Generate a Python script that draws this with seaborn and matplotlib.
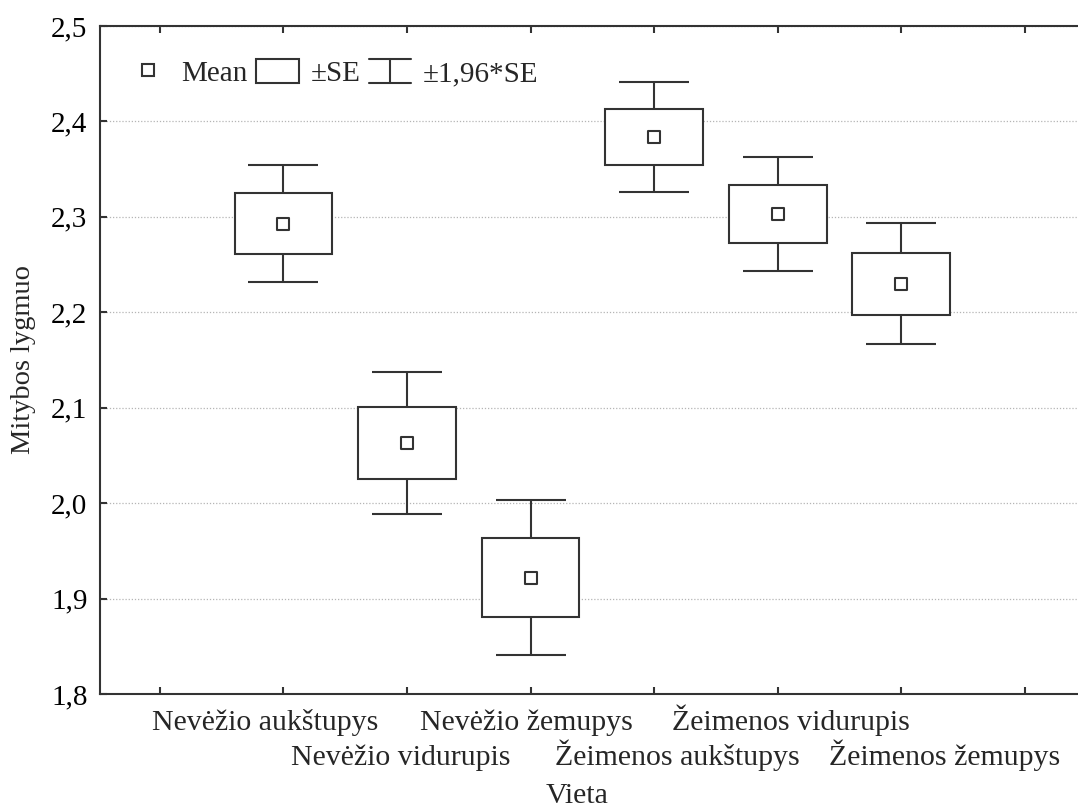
import matplotlib
matplotlib.use("Agg")
import matplotlib.pyplot as plt
from matplotlib.legend_handler import HandlerBase
from matplotlib.lines import Line2D
from matplotlib.patches import Patch
import matplotlib.transforms as mtransforms
import numpy as np
import pandas as pd
import seaborn as sns

# Mitybos lygmuo pagal vietą: vidurkis ir standartinė paklaida
categories = ["Nevėžio aukštupys", "Nevėžio vidurupis", "Nevėžio žemupys",
              "Žeimenos aukštupys", "Žeimenos vidurupis", "Žeimenos žemupys"]
means = [2.293, 2.063, 1.922, 2.384, 2.303, 2.230]
se = [0.0315, 0.038, 0.0415, 0.0295, 0.0305, 0.0325]
y_ticks = [1.8, 1.9, 2.0, 2.1, 2.2, 2.3, 2.4, 2.5]

sns.set_style("white")
plt.rcParams["font.family"] = ["Liberation Serif", "DejaVu Serif"]
plt.rcParams["font.size"] = 20

ink = "#333333"
lw = 1.5

df = pd.DataFrame({"vieta": categories, "mean": means, "se": se})
df["pos"] = np.arange(1, len(categories) + 1)
df["ci"] = 1.96 * df["se"]

fig = plt.figure(figsize=(10.78, 8.07), dpi=100)
ax = fig.add_axes([100 / 1078, 1 - 694 / 807, 1 - 100 / 1078, (694 - 26) / 807])

# ±1,96*SE whiskers
ax.errorbar(df["pos"], df["mean"], yerr=df["ci"], fmt="none", ecolor=ink,
            elinewidth=lw, capsize=25.2, capthick=lw, zorder=2)
# ±SE boxes
ax.bar(df["pos"], 2 * df["se"], bottom=df["mean"] - df["se"], width=0.79,
       color="white", edgecolor=ink, linewidth=lw, zorder=3)
# mean markers
sns.scatterplot(data=df, x="pos", y="mean", marker="s", s=80, color="white",
                edgecolor=ink, linewidth=lw, zorder=4, ax=ax, legend=False)

ax.set_xlim(-0.485, 7.43)
ax.set_ylim(1.8, 2.5)
ax.set_yticks(y_ticks)
ax.set_yticklabels([f"{v:.1f}".replace(".", ",") for v in y_ticks])
ax.set_xticks(range(len(categories) + 2))
ax.set_xticklabels([])

# category names in two staggered rows below the axis
label_shift = [-0.15, -0.05, -0.03, 0.19, 0.11, 0.35]
row_y = [-0.054, -0.106]
trans = mtransforms.blended_transform_factory(ax.transData, ax.transAxes)
for i, (p, name) in enumerate(zip(df["pos"], df["vieta"])):
    ax.text(p + label_shift[i], row_y[i % 2], name, transform=trans,
            ha="center", va="baseline", fontsize=21.5, clip_on=False)

ax.yaxis.grid(True, color="#b5b5b5", linestyle=(0, (1, 1.5)), linewidth=0.9)
ax.set_axisbelow(True)
for side in ["left", "top", "bottom"]:
    ax.spines[side].set_color(ink)
    ax.spines[side].set_linewidth(lw)
ax.spines["right"].set_visible(False)
ax.tick_params(axis="x", direction="in", top=True, bottom=True, length=5,
               width=lw, color=ink)
ax.tick_params(axis="y", direction="in", left=True, right=False, length=5,
               width=lw, color=ink, pad=9, labelsize=21, labelcolor="black")

ax.set_xlabel("Vieta", fontsize=21.5)
ax.xaxis.set_label_coords(0.488, -0.133)
ax.set_ylabel("Mitybos lygmuo", fontsize=20.5)
ax.yaxis.set_label_coords(-0.0654, 0.5)


class WhiskerHandler(HandlerBase):
    def create_artists(self, legend, orig_handle, xdescent, ydescent,
                       width, height, fontsize, trans):
        x0, x1 = -xdescent, -xdescent + width
        xm = (x0 + x1) / 2
        y0, y1 = -ydescent, -ydescent + height
        kw = dict(color=ink, linewidth=lw, transform=trans)
        return [Line2D([x0, x1], [y1, y1], **kw),
                Line2D([xm, xm], [y0, y1], **kw),
                Line2D([x0, x1], [y0, y0], **kw)]


h_mean = Line2D([], [], marker="s", linestyle="none", markersize=8,
                markerfacecolor="white", markeredgecolor=ink, markeredgewidth=lw)
h_se = Patch(facecolor="white", edgecolor=ink, linewidth=lw)
h_ci = Line2D([], [])
ax.legend([h_mean, h_se, h_ci], ["Mean", "±SE", "±1,96*SE"],
          handler_map={h_ci: WhiskerHandler()}, ncol=3, frameon=False,
          loc="upper left", bbox_to_anchor=(0.016, 0.9675), fontsize=21,
          handlelength=1.45, handleheight=0.88, handletextpad=0.4,
          columnspacing=0.3, borderaxespad=0)

fig.savefig("out.png", dpi=100)
